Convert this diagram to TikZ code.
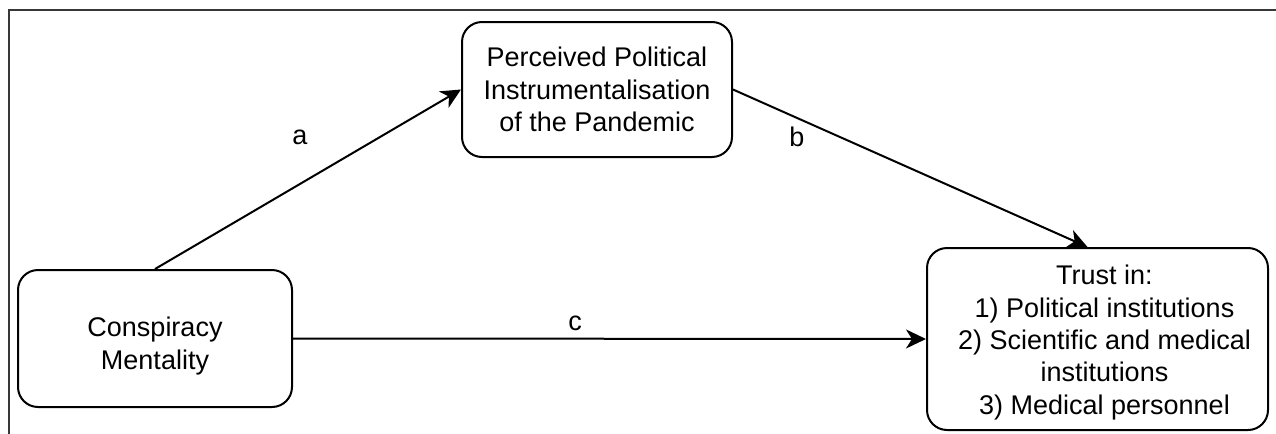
\documentclass[tikz,border=0pt]{standalone}
\usepackage{fontspec}
\setmainfont{Liberation Sans}
\usetikzlibrary{arrows.meta}
\tikzset{
  boxnode/.style={draw=black, line width=1pt, rounded corners=10pt, align=center, inner sep=2pt,
    font=\fontsize{13.5}{16.2}\selectfont},
  conn/.style={draw=black, line width=1pt, -{Stealth[length=10pt, width=9.5pt, inset=3pt]}},
  lbl/.style={font=\fontsize{13.5}{16.2}\selectfont, inner sep=0pt},
  framestyle/.style={draw=black!78, line width=1.1pt}
}
\begin{document}
\begin{tikzpicture}[x=0.5pt, y=-0.5pt]
\useasboundingbox (0,0) rectangle (1276,434);
\draw[framestyle] (9,434) -- (9,10) -- (1276,10);
\node[boxnode, minimum width=135pt, minimum height=67.5pt] (ppi) at (597,89.5)
  {Perceived Political\\Instrumentalisation\\of the Pandemic};
\node[boxnode, minimum width=137pt, minimum height=68.5pt] (cm) at (155,338.5)
  {\raisebox{-4pt}[\height][\depth]{\begin{tabular}{@{}c@{}}Conspiracy\\Mentality\end{tabular}}};
\node[boxnode, minimum width=170.5pt, minimum height=91pt] (trust) at (1097.5,339)
  {\raisebox{-2pt}[\height][\depth]{\begin{tabular}{@{\hspace{7pt}}c@{}}Trust in:\\1) Political institutions\\2) Scientific and medical\\institutions\\3) Medical personnel\end{tabular}}};
\draw[conn] (cm.north) -- (ppi.west);
\draw[conn] (ppi.east) -- ([xshift=-5pt]trust.north);
\draw[conn] (cm.east) -- (trust.west);
\node[lbl] (la) at (300,137) {a};
\node[lbl] (lb) at (797,137) {b};
\node[lbl] (lc) at (575,323) {c};
\end{tikzpicture}
\end{document}
